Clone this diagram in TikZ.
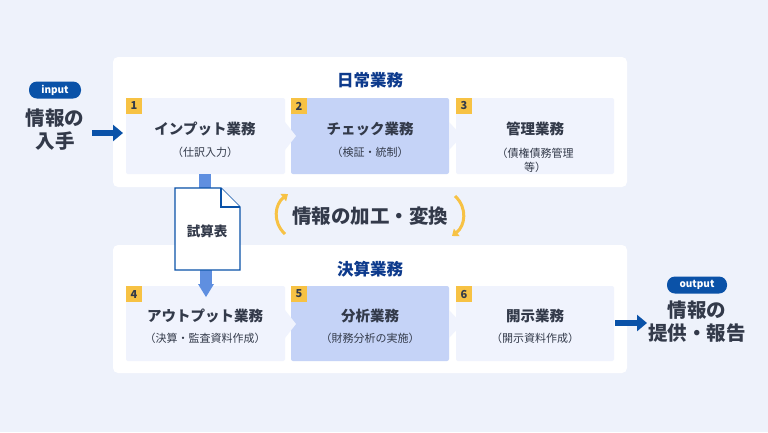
\documentclass[tikz,border=0pt]{standalone}
\usepackage{fontspec}
\setmainfont{Noto Sans CJK JP}
\usetikzlibrary{arrows.meta}
\definecolor{bg}{HTML}{EEF2FB}
\definecolor{boxc}{HTML}{F0F3FD}
\definecolor{hi}{HTML}{C5D3F7}
\definecolor{navy}{HTML}{0D3A8C}
\definecolor{blu}{HTML}{0A52A8}
\definecolor{lblu}{HTML}{5F8FE0}
\definecolor{ylw}{HTML}{F7C244}
\definecolor{txt}{HTML}{333A4A}
\begin{document}
\begin{tikzpicture}[x=1pt,y=-1pt,
  panel/.style={fill=white,rounded corners=5pt},
  stepbox/.style={fill=boxc,rounded corners=2pt},
  badge/.style={fill=ylw,minimum size=16pt,inner sep=0pt,font=\bfseries\fontsize{11}{11}\selectfont,text=txt},
  ttl/.style={font=\bfseries\fontsize{14.5}{16}\selectfont,text=txt,align=center},
  sub/.style={font=\fontsize{11}{14}\selectfont,text=txt,align=center},
  head/.style={font=\bfseries\fontsize{16.5}{18}\selectfont,text=navy},
  pill/.style={fill=blu,rounded corners=8pt,text=white,font=\bfseries\fontsize{10}{10}\selectfont,minimum width=52pt,minimum height=17pt,inner sep=0pt},
  big/.style={font=\bfseries\fontsize{19.5}{23}\selectfont,text=txt,align=center}]
\fill[bg] (0,0) rectangle (768,432);
\useasboundingbox (0,0) rectangle (768,432);
% panels
\fill[panel] (113,57) rectangle (627,187);
\fill[panel] (113,245) rectangle (627,373);
\node[head] (h1) at (370,80) {日常業務};
\node[head] (h2) at (370,269) {決算業務};
% top boxes
\fill[stepbox] (126,98) rectangle (285,174);
\fill[stepbox,fill=hi] (291,98) rectangle (449,174);
\fill[stepbox] (456,98) rectangle (614,174);
\fill[boxc] (285,122) -- (296,136) -- (285,150) -- cycle;
\fill[boxc] (449,122) -- (462,136) -- (449,150) -- cycle;
\node[badge] (b1) at (134,106) {1};
\node[badge] (b2) at (299,106) {2};
\node[badge] (b3) at (464,106) {3};
\node[ttl] (t1) at (205,129) {インプット業務};
\node[sub] (s1) at (205,152) {（仕訳入力）};
\node[ttl] (t2) at (370,129) {チェック業務};
\node[sub] (s2) at (370,152) {（検証・統制）};
\node[ttl] (t3) at (535,129) {管理業務};
\node[sub] (s3) at (535,160) {（債権債務管理\\等）};
% bottom boxes
\fill[stepbox] (126,286) rectangle (285,361);
\fill[stepbox,fill=hi] (291,286) rectangle (449,361);
\fill[stepbox] (456,286) rectangle (614,361);
\fill[boxc] (285,310) -- (296,324) -- (285,338) -- cycle;
\fill[boxc] (449,310) -- (462,324) -- (449,338) -- cycle;
\node[badge] (b4) at (134,294) {4};
\node[badge] (b5) at (299,294) {5};
\node[badge] (b6) at (464,294) {6};
\node[ttl] (t4) at (205,316) {アウトプット業務};
\node[sub] (s4) at (205,338) {（決算・監査資料作成）};
\node[ttl] (t5) at (370,316) {分析業務};
\node[sub] (s5) at (370,338) {（財務分析の実施）};
\node[ttl] (t6) at (535,316) {開示業務};
\node[sub] (s6) at (535,338) {（開示資料作成）};
% document
\fill[lblu] (199,174) rectangle (211,189);
\fill[lblu] (200,270) rectangle (212,286);
\fill[lblu] (198,284) -- (214,284) -- (206,297) -- cycle;
\draw[blu,line width=1.2pt,fill=white] (175,188) -- (221,188) -- (240,207) -- (240,270) -- (175,270) -- cycle;
\draw[blu,line width=1.2pt,fill=white] (221,188) -- (221,207) -- (240,207);
\node[font=\bfseries\fontsize{13.5}{15}\selectfont,text=txt] (doc) at (207,231) {試算表};
% center text
\node[big] (mid) at (370,216) {情報の加工・変換};
\draw[ylw,line width=3pt,-{Triangle[length=6pt,width=9pt]}] (285,234) .. controls (272,222) and (275,204) .. (288,194);
\draw[ylw,line width=3pt,-{Triangle[length=6pt,width=9pt]}] (455,196) .. controls (468,208) and (465,226) .. (452,236);
% input/output
\node[pill] (pin) at (55,90) {input};
\node[big] (in) at (55,130) {情報の\\入手};
\coordinate (ia) at (92,133);
\coordinate (ib) at (123,133);
\draw[blu,line width=6pt,-{Triangle[length=10pt,width=16pt]}] (ia) -- (ib);
\node[pill,minimum width=60pt] (pout) at (697,285) {output};
\node[big] (out) at (697,322) {情報の\\提供・報告};
\coordinate (oa) at (615,323);
\coordinate (ob) at (647,323);
\draw[blu,line width=6pt,-{Triangle[length=10pt,width=16pt]}] (oa) -- (ob);
\end{tikzpicture}
\end{document}
